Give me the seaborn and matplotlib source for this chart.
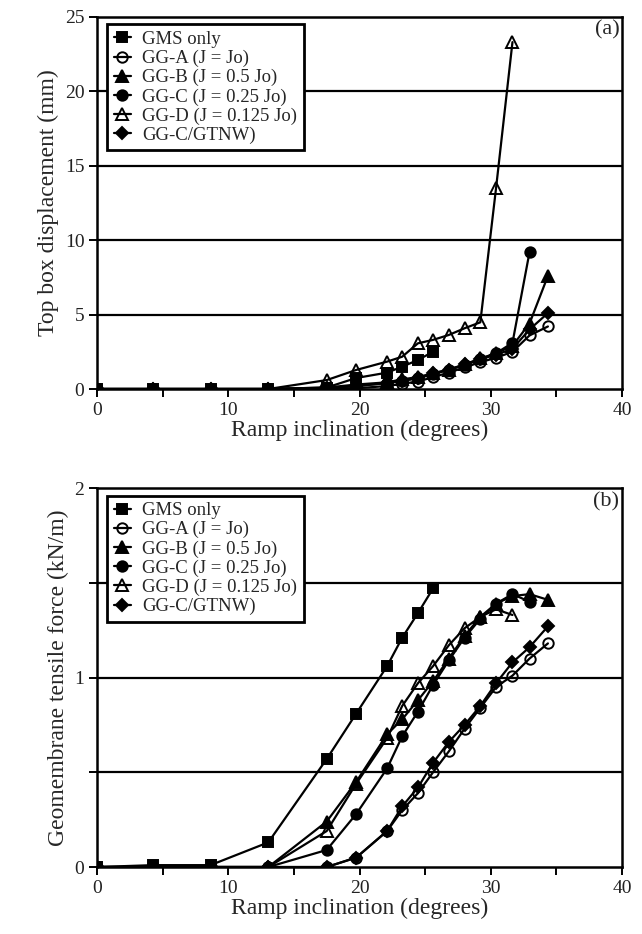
import matplotlib
matplotlib.use("Agg")
import matplotlib.pyplot as plt
import seaborn as sns
import pandas as pd
import numpy as np

# ---- data ----
x_all = [0, 4.3, 8.65, 13.05, 17.5, 19.75, 22.1, 23.25, 24.45, 25.6, 26.8, 28.0, 29.2, 30.4, 31.65, 32.95, 34.35]

series_names = ["GMS only", "GG-A (J = Jo)", "GG-B (J = 0.5 Jo)", "GG-C (J = 0.25 Jo)",
                "GG-D (J = 0.125 Jo)", "GG-C/GTNW)"]

# (a) top box displacement (mm)
disp_gms = [0, 0, 0, 0, 0.1, 0.74, 1.1, 1.5, 1.95, 2.5]
disp_gga = [0, 0, 0, 0, 0.0, 0.05, 0.2, 0.35, 0.5, 0.8, 1.1, 1.45, 1.8, 2.1, 2.5, 3.6, 4.2]
disp_ggb = [0, 0, 0, 0, 0.1, 0.3, 0.45, 0.65, 0.8, 1.05, 1.3, 1.65, 2.05, 2.4, 2.9, 4.4, 7.6]
disp_ggc = [0, 0, 0, 0, 0.05, 0.2, 0.4, 0.55, 0.72, 1.0, 1.28, 1.6, 2.0, 2.4, 3.1, 9.2]
disp_ggd = [0, 0, 0, 0, 0.6, 1.28, 1.84, 2.17, 3.07, 3.3, 3.63, 4.08, 4.48, 13.5, 23.3]
disp_gtnw = [0, 0, 0, 0, 0.05, 0.2, 0.4, 0.55, 0.75, 1.05, 1.3, 1.65, 2.0, 2.3, 2.7, 4.0, 5.1]

# (b) geomembrane tensile force (kN/m)
force_gms = [0, 0.01, 0.01, 0.13, 0.57, 0.81, 1.06, 1.21, 1.34, 1.47]
force_gga = [0, 0, 0, 0, 0.0, 0.05, 0.19, 0.30, 0.39, 0.50, 0.61, 0.73, 0.84, 0.95, 1.01, 1.10, 1.18]
force_ggb = [0, 0, 0, 0, 0.24, 0.45, 0.70, 0.78, 0.88, 0.98, 1.10, 1.22, 1.32, 1.39, 1.43, 1.44, 1.41]
force_ggc = [0, 0, 0, 0, 0.09, 0.28, 0.52, 0.69, 0.82, 0.96, 1.09, 1.21, 1.31, 1.39, 1.44, 1.40]
force_ggd = [0, 0, 0, 0, 0.19, 0.44, 0.68, 0.85, 0.97, 1.06, 1.17, 1.26, 1.32, 1.36, 1.33]
force_gtnw = [0, 0, 0, 0, 0.0, 0.05, 0.19, 0.32, 0.42, 0.55, 0.66, 0.75, 0.85, 0.97, 1.08, 1.16, 1.27]

disp_values = [disp_gms, disp_gga, disp_ggb, disp_ggc, disp_ggd, disp_gtnw]
force_values = [force_gms, force_gga, force_ggb, force_ggc, force_ggd, force_gtnw]

marker_styles = {
    "GMS only": dict(marker="s", mfc="black", ms=7.5),
    "GG-A (J = Jo)": dict(marker="o", mfc="none", ms=7.5),
    "GG-B (J = 0.5 Jo)": dict(marker="^", mfc="black", ms=8),
    "GG-C (J = 0.25 Jo)": dict(marker="o", mfc="black", ms=7.5),
    "GG-D (J = 0.125 Jo)": dict(marker="^", mfc="none", ms=8),
    "GG-C/GTNW)": dict(marker="D", mfc="black", ms=6),
}

def build_df(values):
    rows = []
    for name, vals in zip(series_names, values):
        for xv, yv in zip(x_all[:len(vals)], vals):
            rows.append((name, xv, yv))
    return pd.DataFrame(rows, columns=["series", "x", "y"])

df_a = build_df(disp_values)
df_b = build_df(force_values)

sns.set_style("ticks")
plt.rcParams["font.family"] = ["Liberation Serif", "DejaVu Serif"]

fig = plt.figure(figsize=(6.42, 9.34), dpi=100)
ax_a = fig.add_axes([0.151, 0.5835, 0.818, 0.3985])
ax_b = fig.add_axes([0.151, 0.0717, 0.818, 0.4058])

def draw(ax, df, ylim, yticks, ylabels, grid, ylabel, tag):
    for name in series_names:
        sub = df[df["series"] == name]
        st = marker_styles[name]
        sns.lineplot(data=sub, x="x", y="y", ax=ax, color="black", lw=1.6,
                     marker=st["marker"], markersize=st["ms"], markerfacecolor=st["mfc"],
                     markeredgecolor="black", markeredgewidth=1.4, label=name,
                     estimator=None, sort=False, zorder=3)
    for g in grid:
        ax.axhline(g, color="black", lw=1.6, zorder=1)
    ax.set_xlim(0, 40)
    ax.set_ylim(*ylim)
    ax.set_xticks(np.arange(0, 41, 5))
    ax.set_xticklabels([str(v) if v % 10 == 0 else "" for v in range(0, 41, 5)])
    ax.set_yticks(yticks)
    ax.set_yticklabels(ylabels)
    ax.tick_params(axis="both", direction="out", length=6, width=1.4, labelsize=14, color="black",
                   labelcolor="#222222", pad=3)
    for s in ax.spines.values():
        s.set_linewidth(1.8)
        s.set_color("black")
    ax.set_xlabel("Ramp inclination (degrees)", fontsize=17, labelpad=1)
    ax.set_ylabel(ylabel, fontsize=17, labelpad=4)
    ax.text(0.995, 0.99, tag, transform=ax.transAxes, ha="right", va="top", fontsize=16)
    leg = ax.legend(loc="upper left", bbox_to_anchor=(0.02, 0.98), frameon=True, fancybox=False,
                    edgecolor="black", fontsize=13.5, handlelength=0.9, handletextpad=0.6,
                    labelspacing=0.1, borderpad=0.35, borderaxespad=0.0)
    leg.get_frame().set_linewidth(2.0)
    leg.get_frame().set_alpha(1)

draw(ax_a, df_a, (0, 25), [0, 5, 10, 15, 20, 25], ["0", "5", "10", "15", "20", "25"],
     [5, 10, 15, 20], "Top box displacement (mm)", "(a)")
draw(ax_b, df_b, (0, 2), [0, 0.5, 1, 1.5, 2], ["0", "", "1", "", "2"],
     [0.5, 1.0, 1.5], "Geomembrane tensile force (kN/m)", "(b)")

fig.savefig("out.png", dpi=100)
